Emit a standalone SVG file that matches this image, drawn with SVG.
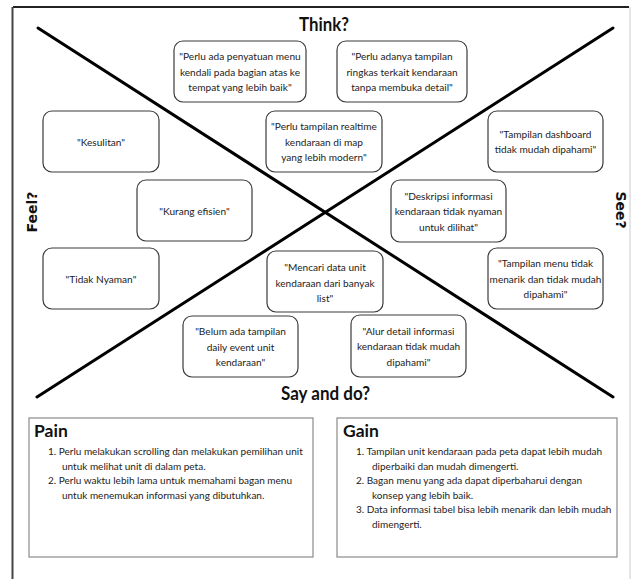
<svg xmlns="http://www.w3.org/2000/svg" width="633" height="579" viewBox="0 0 633 579">
<style>
.box{fill:#fff;stroke:#3a3a3a;stroke-width:1.2}
.t{font-family:Lato,"Open Sans",sans-serif;font-size:10.1px;fill:#222;text-anchor:middle}
.h{font-family:Lato,"Open Sans",sans-serif;font-size:18.5px;font-weight:bold;fill:#111;text-anchor:middle}
.v{font-family:"DejaVu Sans",sans-serif;font-size:14px;font-weight:bold;fill:#111;text-anchor:middle}
.card{fill:#fff;stroke:#8a8a8a;stroke-width:1.2}
.ct{font-family:Lato,"Open Sans",sans-serif;font-size:17.5px;font-weight:bold;fill:#111}
.lt{font-family:Lato,"Open Sans",sans-serif;font-size:10px;fill:#222}
</style>
<rect width="633" height="579" fill="#fff"/>
<line x1="13" y1="7" x2="629" y2="7" stroke="#222" stroke-width="2"/>
<line x1="12.5" y1="7" x2="12.5" y2="579" stroke="#444" stroke-width="2"/>
<line x1="630" y1="7" x2="630" y2="579" stroke="#ddd" stroke-width="1.5"/>
<g id="connectors" stroke="#000" stroke-width="3" stroke-linecap="round">
<line x1="38" y1="28" x2="613" y2="397"/>
<line x1="613" y1="28" x2="37" y2="397"/>
</g>
<g id="labels">
<text class="h" x="324" y="31" textLength="50" lengthAdjust="spacingAndGlyphs">Think?</text>
<text class="h" x="325.5" y="400" textLength="89" lengthAdjust="spacingAndGlyphs">Say and do?</text>
<text class="v" transform="translate(37,212) rotate(-90)">Feel?</text>
<text class="v" transform="translate(616,210) rotate(90)">See?</text>
</g>
<g id="n1"><rect class="box" x="174" y="41" width="132" height="61" rx="9"/>
<text class="t" x="240" y="60">"Perlu ada penyatuan menu</text><text class="t" x="240" y="75.5">kendali pada bagian atas ke</text><text class="t" x="240" y="91">tempat yang lebih baik"</text></g>
<g id="n2"><rect class="box" x="337" y="41" width="130" height="61" rx="9"/>
<text class="t" x="402" y="60">"Perlu adanya tampilan</text><text class="t" x="402" y="75.5">ringkas terkait kendaraan</text><text class="t" x="402" y="91">tanpa membuka detail"</text></g>
<g id="n3"><rect class="box" x="43" y="111" width="116" height="61" rx="9"/>
<text class="t" x="101" y="145.5">"Kesulitan"</text></g>
<g id="n4"><rect class="box" x="266" y="111" width="116" height="61" rx="9"/>
<text class="t" x="324" y="130">"Perlu tampilan realtime</text><text class="t" x="324" y="145.5">kendaraan di map</text><text class="t" x="324" y="161">yang lebih modern"</text></g>
<g id="n5"><rect class="box" x="488" y="111" width="115" height="61" rx="9"/>
<text class="t" x="545.5" y="137.5">"Tampilan dashboard</text><text class="t" x="545.5" y="153">tidak mudah dipahami"</text></g>
<g id="n6"><rect class="box" x="137" y="180" width="115" height="61" rx="9"/>
<text class="t" x="194.5" y="214.5">"Kurang efisien"</text></g>
<g id="n7"><rect class="box" x="391" y="180" width="115" height="62" rx="9"/>
<text class="t" x="448.5" y="199.5">"Deskripsi informasi</text><text class="t" x="448.5" y="215">kendaraan tidak nyaman</text><text class="t" x="448.5" y="230.5">untuk dilihat"</text></g>
<g id="n8"><rect class="box" x="43" y="248" width="116" height="61" rx="9"/>
<text class="t" x="101" y="282.5">"Tidak Nyaman"</text></g>
<g id="n9"><rect class="box" x="267" y="251" width="116" height="61" rx="9"/>
<text class="t" x="325" y="271">"Mencari data unit</text><text class="t" x="325" y="286.5">kendaraan dari banyak</text><text class="t" x="325" y="302">list"</text></g>
<g id="n10"><rect class="box" x="488" y="248" width="115" height="61" rx="9"/>
<text class="t" x="545.5" y="267">"Tampilan menu tidak</text><text class="t" x="545.5" y="282.5">menarik dan tidak mudah</text><text class="t" x="545.5" y="298">dipahami"</text></g>
<g id="n11"><rect class="box" x="183" y="316" width="115" height="61" rx="9"/>
<text class="t" x="240.5" y="335">"Belum ada tampilan</text><text class="t" x="240.5" y="350.5">daily event unit</text><text class="t" x="240.5" y="366">kendaraan"</text></g>
<g id="n12"><rect class="box" x="351" y="315" width="115" height="62" rx="9"/>
<text class="t" x="408.5" y="334.5">"Alur detail informasi</text><text class="t" x="408.5" y="350">kendaraan tidak mudah</text><text class="t" x="408.5" y="365.5">dipahami"</text></g>
<g id="pain"><rect class="card" x="29" y="418" width="284" height="139"/>
<text class="ct" x="34" y="437">Pain</text>
<text class="lt" x="48" y="455">1. Perlu melakukan scrolling dan melakukan pemilihan unit</text>
<text class="lt" x="62" y="469.5">untuk melihat unit di dalam peta.</text>
<text class="lt" x="48" y="484">2. Perlu waktu lebih lama untuk memahami bagan menu</text>
<text class="lt" x="62" y="498.5">untuk menemukan informasi yang dibutuhkan.</text></g>
<g id="gain"><rect class="card" x="337" y="418" width="280" height="139"/>
<text class="ct" x="343" y="437">Gain</text>
<text class="lt" x="356" y="455">1. Tampilan unit kendaraan pada peta dapat lebih mudah</text>
<text class="lt" x="372" y="469.5">diperbaiki dan mudah dimengerti.</text>
<text class="lt" x="356" y="484">2. Bagan menu yang ada dapat diperbaharui dengan</text>
<text class="lt" x="372" y="498.5">konsep yang lebih baik.</text>
<text class="lt" x="356" y="513">3. Data informasi tabel bisa lebih menarik dan lebih mudah</text>
<text class="lt" x="372" y="527.5">dimengerti.</text></g>
</svg>
